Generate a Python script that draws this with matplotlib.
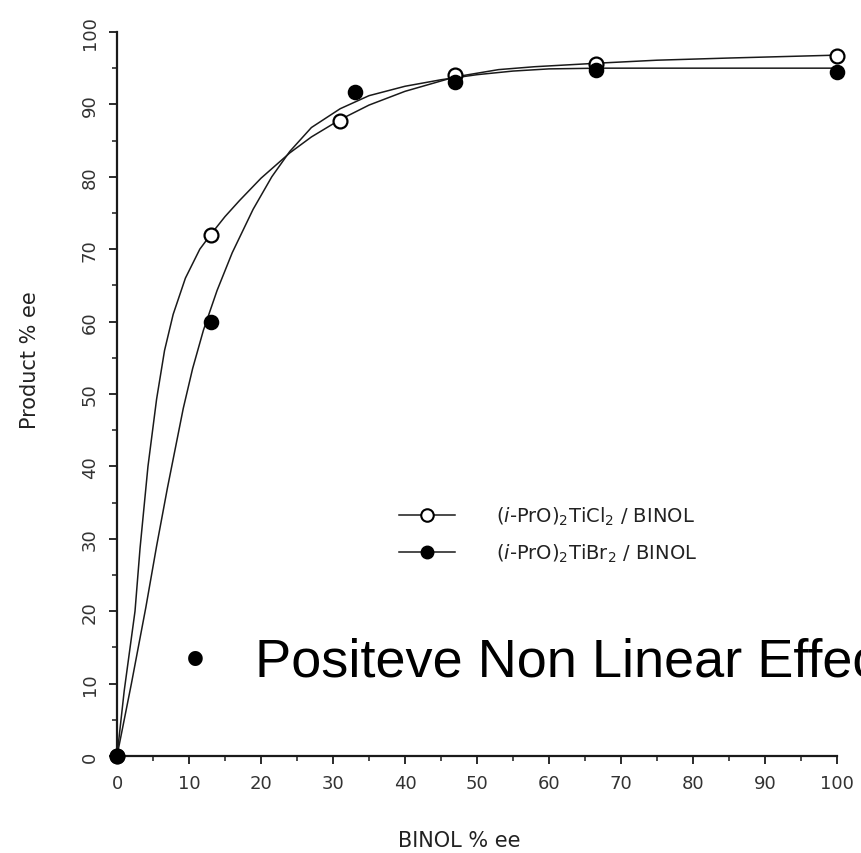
import matplotlib.pyplot as plt
from matplotlib.ticker import MultipleLocator

plt.rcParams['font.family'] = ['DejaVu Sans']
plt.rcParams['mathtext.fontset'] = 'dejavusans'

# measured points
cl_x = [0, 13, 31, 47, 66.5, 100]
cl_y = [0, 72, 87.7, 94, 95.6, 96.7]
br_x = [0, 13, 33, 47, 66.5, 100]
br_y = [0, 60, 91.7, 93.1, 94.8, 94.5]

# fitted curves
cl_curve_x = [0, 1, 2.5, 3.2, 4.3, 5.5, 6.6, 7.8, 9.5, 11.5, 13, 15, 17, 20, 24, 27, 31, 35, 40, 47, 53, 58, 67, 75, 85, 100]
cl_curve_y = [0, 9, 20, 28.7, 40, 49.3, 56, 61, 66, 70, 72, 74.5, 76.7, 79.8, 83.3, 85.5, 87.9, 89.9, 91.8, 93.8, 94.8, 95.2, 95.7, 96.1, 96.4, 96.8]
br_curve_x = [0, 2, 4, 5.5, 7, 8.2, 9.2, 10.5, 12, 13.9, 16, 18.9, 21.5, 24, 27, 31, 35, 40, 45, 50, 55, 60, 67, 75, 85, 100]
br_curve_y = [0, 10, 20.5, 29, 37, 43, 48, 53.5, 58.8, 64.3, 69.5, 75.5, 80, 83.5, 86.8, 89.4, 91.2, 92.5, 93.4, 94.1, 94.6, 94.9, 95.0, 95.0, 95.0, 95.0]

x_ticks = list(range(0, 101, 10))
y_ticks = list(range(0, 101, 10))

fig = plt.figure(figsize=(8.61, 8.54), dpi=100)
ax = fig.add_axes([0.1359, 0.1136, 0.8362, 0.8478])

ink = '#1a1a1a'
ax.plot(cl_curve_x, cl_curve_y, color=ink, lw=1.1, clip_on=False)
ax.plot(br_curve_x, br_curve_y, color=ink, lw=1.1, clip_on=False)
ax.plot(cl_x, cl_y, 'o', ms=10, mfc='white', mec='black', mew=1.6, clip_on=False, zorder=4)
ax.plot(br_x, br_y, 'o', ms=10, mfc='black', mec='black', mew=1.2, clip_on=False, zorder=5)

# legend handles
h1, = ax.plot([], [], '-o', color=ink, lw=1.1, ms=9, mfc='white', mec='black', mew=1.5)
h2, = ax.plot([], [], '-o', color=ink, lw=1.1, ms=9, mfc='black', mec='black')
ax.legend([h1, h2],
          [r'($\it{i}$-PrO)$_2$TiCl$_2$ / BINOL', r'($\it{i}$-PrO)$_2$TiBr$_2$ / BINOL'],
          loc='upper left', bbox_to_anchor=(0.367, 0.371), frameon=False,
          fontsize=14, handlelength=2.9, handletextpad=2.1, labelspacing=0.75,
          labelcolor='#222222')

ax.set_xlim(0, 100)
ax.set_ylim(0, 100)
ax.set_xticks(x_ticks)
ax.set_yticks(y_ticks)
ax.xaxis.set_minor_locator(MultipleLocator(5))
ax.yaxis.set_minor_locator(MultipleLocator(5))
ax.tick_params(which='major', length=6, width=1.3, colors=ink, labelsize=13, pad=7, labelcolor='#333333')
ax.tick_params(which='minor', length=3.5, width=1.1, colors=ink)
plt.setp(ax.get_yticklabels(), rotation=90, va='center')

for s in ['top', 'right']:
    ax.spines[s].set_visible(False)
for s in ['left', 'bottom']:
    ax.spines[s].set_linewidth(1.6)
    ax.spines[s].set_color(ink)

ax.set_xlabel('BINOL % ee', fontsize=15, color='#222222', va='center')
ax.set_ylabel('Product % ee', fontsize=15, color='#222222', va='center')
ax.xaxis.set_label_coords(0.476, -0.116)
ax.yaxis.set_label_coords(-0.121, 0.548)

# slide bullet text, runs off the right edge as in the source
big = ['Liberation Sans', 'DejaVu Sans']
fig.text(195 / 861, 1 - 677 / 854, '\u2022', fontsize=39, family=big, ha='center', va='baseline', color='black')
fig.text(255 / 861, 1 - 677 / 854, 'Positeve Non Linear Effect', fontsize=39, family=big,
         ha='left', va='baseline', color='black')

fig.savefig('out.png', dpi=100)
